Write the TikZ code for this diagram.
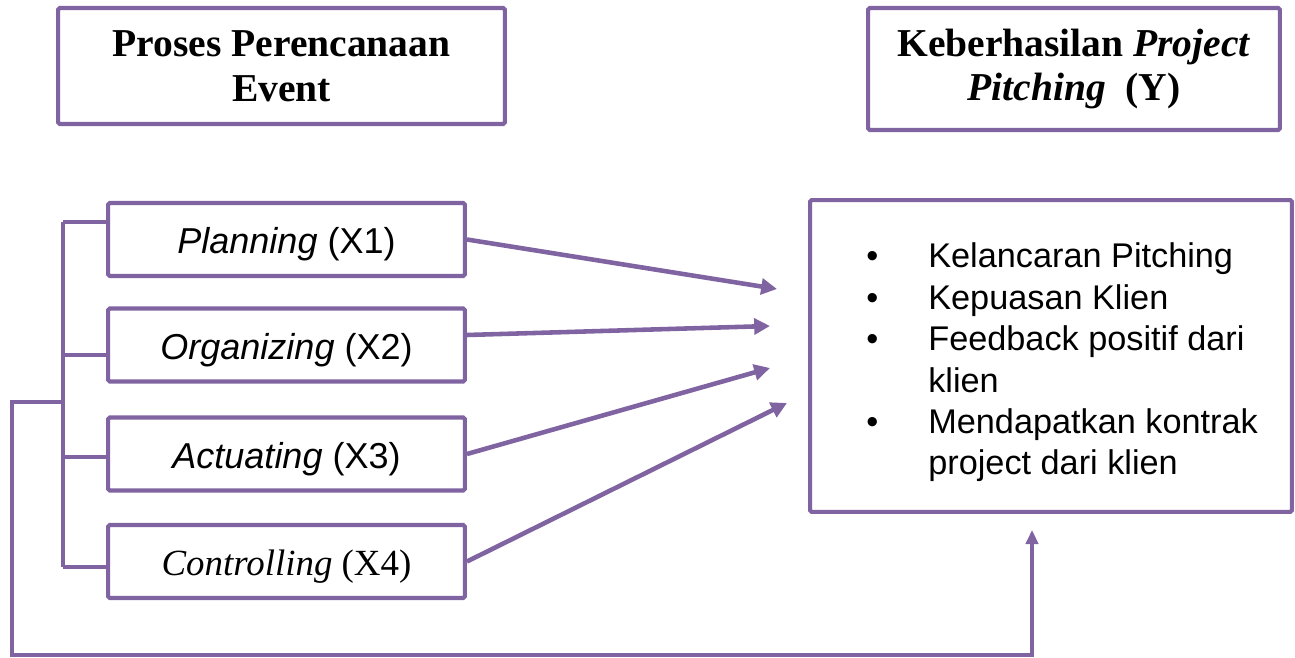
\documentclass[tikz,border=0pt]{standalone}
\usepackage{fontspec}
\usepackage{array}
\setmainfont{Liberation Serif}
\newfontfamily\arialf{Liberation Sans}
\usetikzlibrary{arrows.meta,calc}
\definecolor{ungu}{RGB}{128,100,162}

\begin{document}
\begin{tikzpicture}[x=0.02cm,y=-0.02cm,
  kotak/.style={draw=ungu,line width=2.3pt,rounded corners=1pt,fill=white,align=center,inner sep=0pt},
  judul/.style={kotak,font=\bfseries\fontsize{22.5}{25.5}\selectfont},
  var/.style={kotak,minimum width=7.14cm,minimum height=1.46cm,text height=20.5pt,text depth=4.4pt,font=\arialf\fontsize{20.5}{24}\selectfont},
  panah/.style={ungu,line width=2.6pt,-{Triangle[length=9pt,width=9pt]}},
  garis/.style={ungu,line width=2.3pt}]
\useasboundingbox (0,0) rectangle (1295,658);
% judul
\node[judul,minimum width=8.94cm,minimum height=2.32cm] (proses) at (281.5,66) {Proses Perencanaan\\Event};
\node[judul,minimum width=8.24cm,minimum height=2.44cm] (judulY) at (1074,69) {Keberhasilan \textit{Project}\\\textit{Pitching}\ \ (Y)};
% variabel X
\node[var] (x1) at (286.5,239.5) {\textit{Planning} (X1)};
\node[var] (x2) at (286.5,345) {\textit{Organizing} (X2)};
\node[var] (x3) at (286.5,454) {\textit{Actuating} (X3)};
\node[var,font=\fontsize{21}{24}\selectfont] (x4) at (286.5,561.5) {\textit{Controlling} (X4)};
% variabel Y
\node[kotak,minimum width=9.64cm,minimum height=6.24cm] (hasil) at (1051,356) {};
\node[anchor=west,inner sep=0pt,font=\arialf\fontsize{19.5}{23.6}\selectfont,align=left] (butir) at (866,363)
  {\begin{tabular}{@{}p{1.24cm}@{}>{\raggedright\arraybackslash}p{6.9cm}@{}}
   \textbullet & Kelancaran Pitching\\
   \textbullet & Kepuasan Klien\\
   \textbullet & Feedback positif dari klien\\
   \textbullet & Mendapatkan kontrak project dari klien
   \end{tabular}};
\coordinate (u1) at (777,289);
\coordinate (u2) at (770,326);
\coordinate (u3) at (770,368);
\coordinate (u4) at (787,403);
\coordinate (u5) at (1032,530);
\draw[panah] (x1.east) -- (u1);
\draw[panah] ([yshift=2mm]x2.east) -- (u2);
\foreach \a/\b in {x3/u3,x4/u4} \draw[panah] (\a.east) -- (\b);
% kurung kiri
\draw[garis] (63,222) -- (63,567);
\foreach \n/\y in {x1/222,x2/355,x3/457,x4/567} \draw[garis] (63,\y) -- (\n.west |- 0,\y);
\draw[garis,line width=2pt,-{Triangle[length=8pt,width=7pt]}] (63,402) -- (12,402) |- (1032,655) -- (u5);
\end{tikzpicture}
\end{document}
